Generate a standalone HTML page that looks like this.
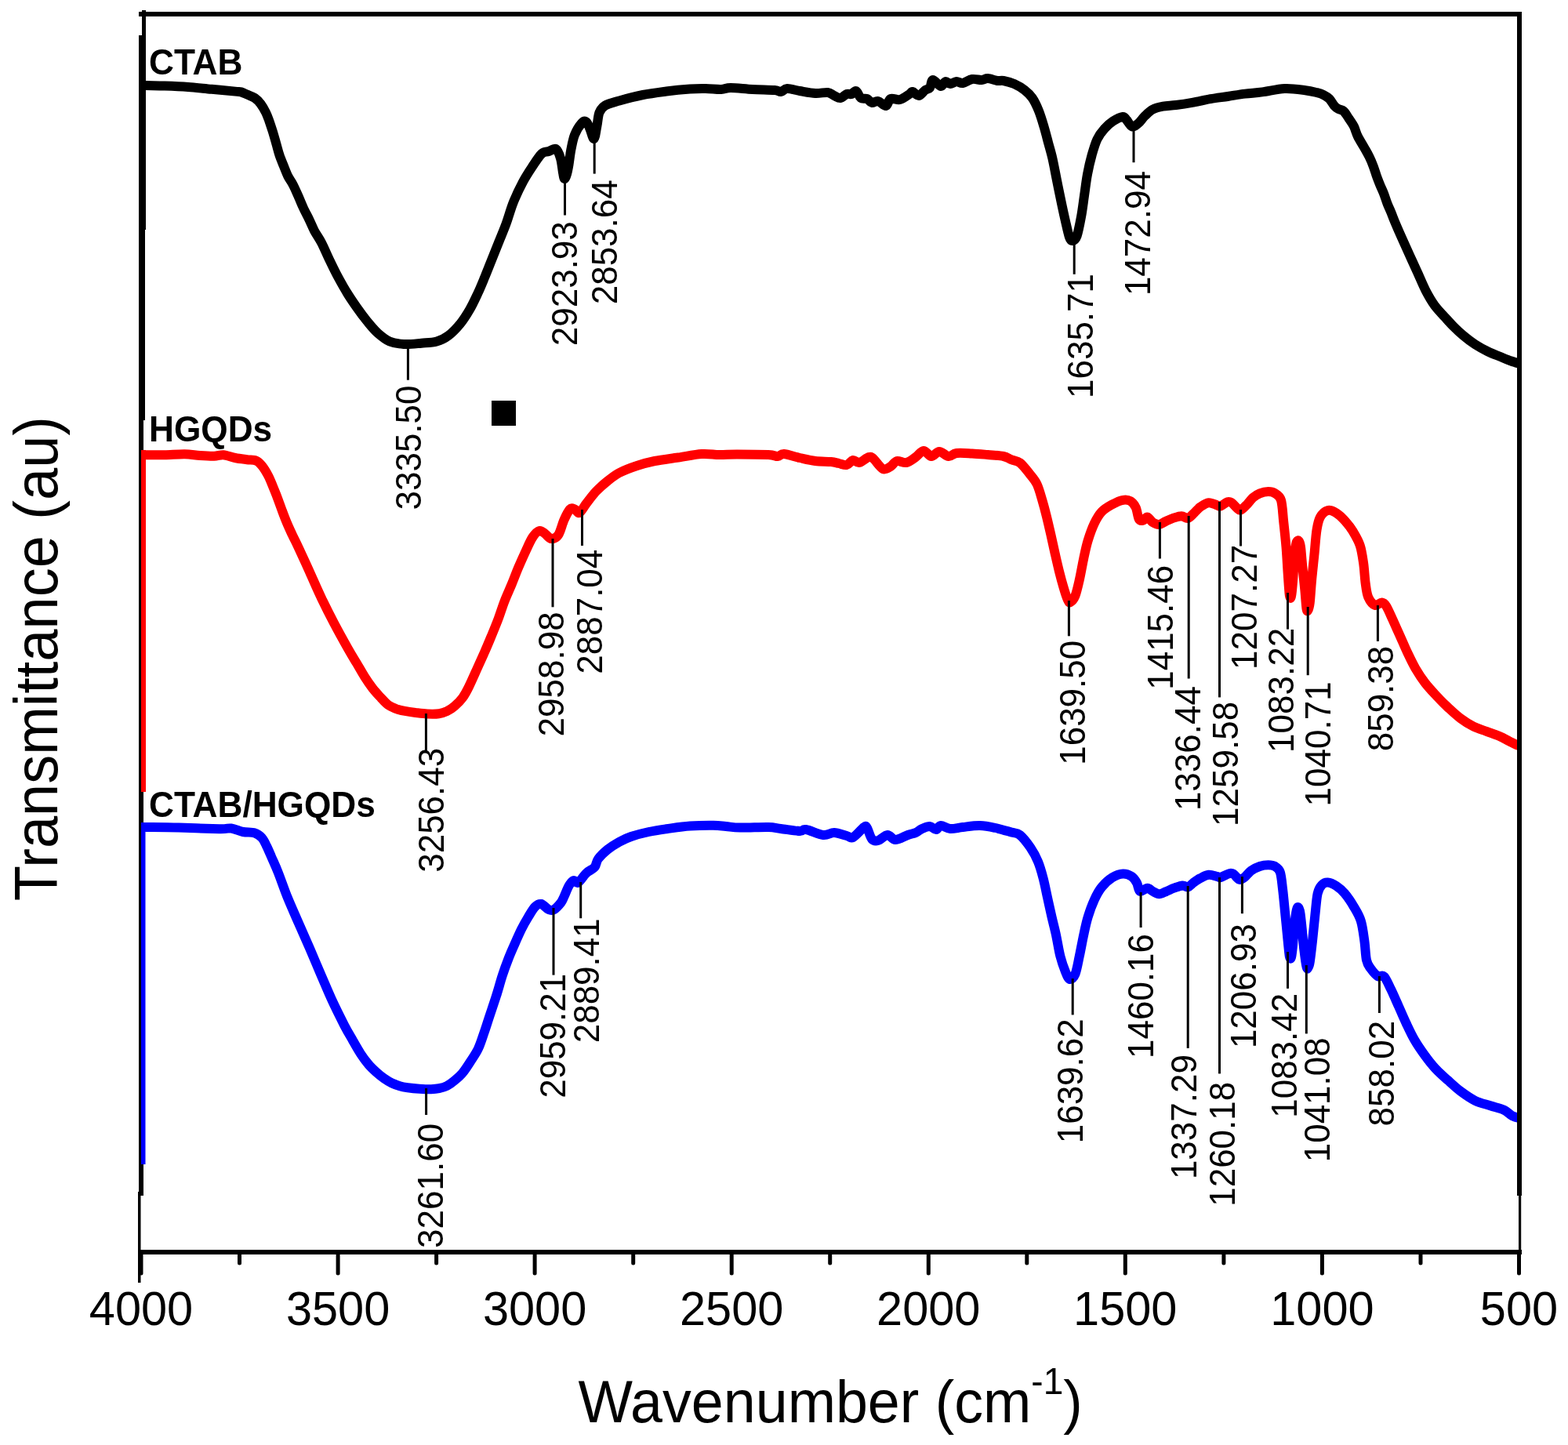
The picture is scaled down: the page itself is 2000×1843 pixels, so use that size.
<!DOCTYPE html>
<html><head><meta charset="utf-8"><title>FTIR spectra</title>
<style>
html,body{margin:0;padding:0;background:#fff;}
svg{display:block;}
text{font-family:"Liberation Sans",Arial,sans-serif;fill:#000;}
.pk{font-size:44px;}
.ld{stroke:#000;stroke-width:3;}
.nm{font-size:44.2px;font-weight:bold;}
</style></head><body>
<svg width="2000" height="1843" viewBox="0 0 2000 1843">
<defs><clipPath id="pc"><rect x="180" y="0" width="1760" height="1600"/></clipPath></defs>
<rect x="0" y="0" width="2000" height="1843" fill="#fff"/>
<rect x="181" y="13" width="5" height="33" fill="#000"/>
<rect x="177" y="45" width="9" height="248" fill="#000"/>
<rect x="177" y="292" width="8" height="244" fill="#000"/>
<rect x="177" y="535" width="6" height="990" fill="#000"/>
<rect x="176" y="1520" width="3.5" height="116" fill="#000"/>
<path d="M186.0,109.0 C190.0,109.1 201.0,109.3 210.0,109.6 C219.0,109.9 230.0,110.3 240.0,111.0 C250.0,111.7 260.0,112.9 270.0,113.8 C280.0,114.7 293.7,116.0 300.0,116.6 C306.3,117.2 305.1,116.7 307.6,117.4 C310.1,118.1 312.3,119.3 315.2,120.6 C318.1,121.9 322.1,123.0 325.0,125.0 C327.9,127.0 330.3,129.5 332.6,132.6 C334.9,135.7 337.2,139.8 339.0,143.4 C340.8,147.0 341.9,150.3 343.4,154.3 C344.8,158.3 346.2,162.6 347.7,167.3 C349.1,172.0 350.7,177.4 352.1,182.5 C353.6,187.6 354.8,192.8 356.4,197.7 C358.0,202.6 360.1,207.3 361.9,211.8 C363.7,216.3 365.3,220.8 367.3,224.8 C369.3,228.8 371.6,231.5 373.8,235.7 C376.0,239.9 378.1,244.9 380.3,249.8 C382.5,254.7 384.5,259.8 386.8,264.9 C389.1,269.9 392.0,275.2 394.4,280.1 C396.8,285.0 398.3,289.3 400.9,294.2 C403.5,299.1 406.7,303.2 410.0,309.5 C413.3,315.8 417.0,324.8 420.5,332.0 C424.0,339.2 427.2,346.0 431.0,353.0 C434.8,360.0 439.0,367.5 443.0,374.0 C447.0,380.5 450.8,386.0 455.0,392.0 C459.2,398.0 464.0,404.5 468.5,410.0 C473.0,415.5 477.2,420.8 482.0,425.0 C486.8,429.2 491.5,433.2 497.0,435.5 C502.5,437.8 508.2,438.6 515.0,439.0 C521.8,439.4 530.5,438.3 537.5,437.7 C544.5,437.1 551.2,437.1 557.0,435.5 C562.8,433.9 567.0,431.8 572.0,428.0 C577.0,424.2 582.5,418.5 587.0,413.0 C591.5,407.5 595.2,401.5 599.0,395.0 C602.8,388.5 606.2,381.0 609.5,374.0 C612.8,367.0 615.5,360.2 618.5,353.0 C621.5,345.8 624.5,338.0 627.5,330.5 C630.5,323.0 633.5,315.5 636.5,308.0 C639.5,300.5 642.4,293.9 645.5,285.5 C648.6,277.1 651.4,266.4 655.0,257.5 C658.6,248.6 663.0,239.5 667.0,232.0 C671.0,224.5 675.0,218.5 679.0,212.5 C683.0,206.5 687.5,199.2 691.0,196.0 C694.5,192.8 697.0,194.0 700.0,193.0 C703.0,192.0 706.5,188.5 709.0,190.0 C711.5,191.5 713.5,197.0 715.0,202.0 C716.5,207.0 717.2,215.7 718.0,220.0 C718.8,224.3 719.2,227.7 720.0,228.0 C720.8,228.3 722.1,225.0 723.0,222.0 C723.9,219.0 724.6,215.3 725.5,210.0 C726.4,204.7 727.2,196.3 728.5,190.0 C729.8,183.7 730.8,177.5 733.0,172.0 C735.2,166.5 739.5,159.8 742.0,157.0 C744.5,154.2 746.2,154.2 748.0,155.5 C749.8,156.8 750.9,160.9 752.5,164.5 C754.1,168.1 756.2,177.8 757.7,177.0 C759.2,176.2 760.4,165.6 761.5,160.0 C762.6,154.4 762.8,147.8 764.5,143.5 C766.2,139.2 767.8,137.0 772.0,134.5 C776.2,132.0 782.0,130.8 790.0,128.5 C798.0,126.2 810.0,123.0 820.0,121.0 C830.0,119.0 840.0,117.8 850.0,116.5 C860.0,115.2 871.7,114.1 880.0,113.5 C888.3,112.9 893.3,112.9 900.0,113.0 C906.7,113.1 914.7,114.2 920.0,114.0 C925.3,113.8 925.3,112.0 932.0,112.0 C938.7,112.0 950.7,113.5 960.0,114.0 C969.3,114.5 982.0,114.5 988.0,115.0 C994.0,115.5 993.3,117.3 996.0,117.0 C998.7,116.7 1000.0,113.2 1004.0,113.0 C1008.0,112.8 1014.0,115.0 1020.0,116.0 C1026.0,117.0 1034.0,118.7 1040.0,119.0 C1046.0,119.3 1052.0,117.5 1056.0,118.0 C1060.0,118.5 1061.3,120.8 1064.0,122.0 C1066.7,123.2 1069.3,125.3 1072.0,125.0 C1074.7,124.7 1077.7,120.8 1080.0,120.0 C1082.3,119.2 1084.0,120.7 1086.0,120.0 C1088.0,119.3 1090.0,115.2 1092.0,116.0 C1094.0,116.8 1095.7,123.3 1098.0,125.0 C1100.3,126.7 1103.7,125.0 1106.0,126.0 C1108.3,127.0 1109.7,130.5 1112.0,131.0 C1114.3,131.5 1117.0,128.3 1120.0,129.0 C1123.0,129.7 1127.3,135.5 1130.0,135.0 C1132.7,134.5 1133.0,127.3 1136.0,126.0 C1139.0,124.7 1144.0,128.0 1148.0,127.0 C1152.0,126.0 1157.3,121.7 1160.0,120.0 C1162.7,118.3 1162.0,116.7 1164.0,117.0 C1166.0,117.3 1169.3,122.3 1172.0,122.0 C1174.7,121.7 1177.7,116.7 1180.0,115.0 C1182.3,113.3 1184.3,114.2 1186.0,112.0 C1187.7,109.8 1187.7,102.3 1190.0,102.0 C1192.3,101.7 1197.3,109.7 1200.0,110.0 C1202.7,110.3 1204.0,104.5 1206.0,104.0 C1208.0,103.5 1209.7,107.0 1212.0,107.0 C1214.3,107.0 1217.3,104.2 1220.0,104.0 C1222.7,103.8 1224.7,106.5 1228.0,106.0 C1231.3,105.5 1236.0,101.7 1240.0,101.0 C1244.0,100.3 1248.7,102.2 1252.0,102.0 C1255.3,101.8 1256.7,99.8 1260.0,100.0 C1263.3,100.2 1268.7,102.5 1272.0,103.0 C1275.3,103.5 1276.4,102.3 1280.0,103.0 C1283.6,103.7 1289.1,105.0 1293.6,107.0 C1298.1,109.0 1303.2,112.0 1307.0,115.0 C1310.8,118.0 1313.6,120.5 1316.6,124.8 C1319.6,129.1 1322.3,134.9 1324.8,141.0 C1327.3,147.1 1329.5,154.6 1331.5,161.4 C1333.5,168.2 1335.2,174.9 1337.0,181.7 C1338.8,188.5 1340.6,194.1 1342.4,202.0 C1344.2,209.9 1346.0,220.0 1347.8,229.0 C1349.6,238.0 1351.5,247.4 1353.3,256.0 C1355.1,264.6 1356.9,273.1 1358.7,280.8 C1360.5,288.6 1362.5,298.1 1364.0,302.5 C1365.5,306.9 1366.4,307.2 1368.0,307.0 C1369.6,306.8 1371.8,306.1 1373.6,301.0 C1375.4,295.9 1377.4,285.3 1379.0,276.7 C1380.6,268.1 1381.7,258.6 1383.0,249.6 C1384.3,240.6 1385.4,231.0 1387.0,222.4 C1388.6,213.8 1390.5,205.4 1392.6,198.0 C1394.7,190.6 1396.7,183.4 1399.4,177.7 C1402.1,172.0 1405.5,167.8 1408.9,164.0 C1412.3,160.2 1415.9,157.1 1419.7,154.6 C1423.5,152.1 1429.1,149.3 1432.0,149.0 C1434.9,148.7 1435.0,150.9 1437.0,153.0 C1439.0,155.1 1441.5,160.7 1444.0,161.4 C1446.5,162.1 1449.3,159.6 1452.0,157.3 C1454.7,155.0 1457.4,150.7 1460.4,147.8 C1463.4,144.9 1466.2,141.7 1470.0,139.7 C1473.8,137.7 1478.5,136.5 1483.5,135.6 C1488.5,134.7 1493.6,134.8 1500.0,134.0 C1506.4,133.2 1514.7,131.9 1522.0,130.6 C1529.3,129.3 1536.7,127.5 1544.0,126.2 C1551.3,124.9 1558.7,124.1 1566.0,123.0 C1573.3,121.9 1580.7,120.5 1588.0,119.6 C1595.3,118.7 1601.6,118.5 1610.0,117.4 C1618.4,116.3 1629.4,113.4 1638.6,113.0 C1647.8,112.6 1658.1,114.3 1665.0,115.2 C1671.9,116.1 1676.2,117.3 1680.0,118.2 C1683.8,119.1 1685.2,119.5 1687.8,120.8 C1690.4,122.1 1693.2,123.6 1695.6,126.0 C1698.0,128.4 1700.1,132.9 1702.1,135.1 C1704.0,137.3 1705.3,137.9 1707.3,139.0 C1709.2,140.1 1711.6,139.7 1713.8,141.7 C1716.0,143.7 1718.1,147.6 1720.3,150.8 C1722.5,154.1 1725.0,157.3 1726.9,161.2 C1728.8,165.1 1729.7,169.6 1731.9,174.0 C1734.1,178.4 1737.5,183.6 1739.9,187.9 C1742.3,192.2 1744.5,195.9 1746.5,199.9 C1748.5,203.9 1750.1,207.8 1751.6,211.8 C1753.1,215.8 1754.2,219.7 1755.6,223.7 C1757.0,227.7 1758.6,231.7 1760.2,235.7 C1761.8,239.7 1763.8,243.6 1765.3,247.6 C1766.8,251.6 1768.0,255.6 1769.5,259.6 C1771.0,263.6 1773.1,267.8 1774.6,271.5 C1776.1,275.2 1776.4,276.4 1778.6,281.7 C1780.8,287.0 1784.8,296.2 1788.0,303.4 C1791.2,310.6 1794.5,317.8 1797.8,325.1 C1801.1,332.4 1804.3,339.4 1807.8,347.0 C1811.3,354.6 1815.0,363.9 1818.7,371.0 C1822.4,378.1 1825.8,384.0 1829.8,389.5 C1833.8,395.0 1838.7,399.8 1842.7,404.2 C1846.7,408.6 1849.8,412.2 1853.8,416.2 C1857.8,420.2 1862.1,424.3 1866.7,428.2 C1871.3,432.1 1876.3,435.9 1881.5,439.3 C1886.7,442.7 1892.7,445.9 1898.1,448.5 C1903.5,451.1 1908.9,453.0 1913.8,455.0 C1918.7,457.0 1923.2,458.9 1927.6,460.5 C1932.0,462.1 1937.9,463.8 1940.0,464.5" fill="none" stroke="#000" stroke-width="12" stroke-linejoin="round" stroke-linecap="round" clip-path="url(#pc)"/>
<path d="M186.0,580.2 C190.0,580.2 201.8,580.4 210.0,580.2 C218.2,580.0 228.0,579.1 235.5,579.2 C243.0,579.3 248.8,580.6 255.0,581.0 C261.2,581.4 268.0,581.8 273.0,581.7 C278.0,581.6 280.5,579.8 285.0,580.2 C289.5,580.6 295.0,583.0 300.0,584.0 C305.0,585.0 310.5,585.6 315.0,586.2 C319.5,586.8 323.8,586.3 327.0,587.7 C330.2,589.1 332.0,591.4 334.5,594.5 C337.0,597.6 339.8,602.4 342.0,606.5 C344.2,610.6 345.7,614.6 347.5,619.0 C349.3,623.4 351.1,627.6 353.0,632.6 C354.9,637.6 357.0,643.6 359.0,649.0 C361.0,654.4 362.9,659.7 365.2,665.1 C367.4,670.5 370.0,676.1 372.5,681.5 C375.0,686.9 376.6,689.6 380.4,697.7 C384.2,705.8 390.4,719.4 395.3,730.2 C400.2,741.1 404.8,751.9 410.0,762.8 C415.2,773.6 420.6,784.4 426.3,795.3 C432.0,806.1 439.4,819.4 444.2,827.9 C449.0,836.4 451.5,840.1 455.0,846.0 C458.5,851.9 461.7,857.8 465.0,863.0 C468.3,868.2 471.7,873.2 475.0,877.5 C478.3,881.8 481.7,885.4 485.0,889.0 C488.3,892.6 491.7,896.5 495.0,899.0 C498.3,901.5 501.7,902.7 505.0,904.0 C508.3,905.3 510.8,905.9 515.0,906.7 C519.2,907.5 525.0,908.4 530.0,909.0 C535.0,909.6 540.0,910.3 545.0,910.5 C550.0,910.7 555.8,910.8 560.0,910.2 C564.2,909.7 566.7,908.8 570.0,907.2 C573.3,905.6 576.7,903.4 580.0,900.5 C583.3,897.6 587.0,894.1 590.0,890.0 C593.0,885.9 595.0,882.1 598.0,876.0 C601.0,869.9 604.9,861.0 608.2,853.6 C611.5,846.2 614.8,839.1 618.0,831.9 C621.2,824.7 624.2,817.4 627.2,810.2 C630.2,803.0 633.2,795.7 635.9,788.5 C638.6,781.3 640.7,774.0 643.5,766.8 C646.3,759.6 649.7,752.3 652.7,745.1 C655.7,737.9 658.3,730.6 661.4,723.4 C664.5,716.2 668.1,708.1 671.1,701.7 C674.1,695.3 676.7,689.1 679.5,685.0 C682.3,680.9 685.3,677.7 688.0,677.0 C690.7,676.3 693.0,679.3 695.5,681.0 C698.0,682.7 700.2,686.8 703.0,687.0 C705.8,687.2 709.2,686.5 712.0,682.5 C714.8,678.5 717.0,668.5 719.5,663.0 C722.0,657.5 724.8,651.8 727.0,649.5 C729.2,647.2 731.0,648.8 733.0,649.5 C735.0,650.2 736.5,655.2 739.0,654.0 C741.5,652.8 744.5,646.5 748.0,642.0 C751.5,637.5 755.5,631.8 760.0,627.0 C764.5,622.2 770.0,617.5 775.0,613.5 C780.0,609.5 783.8,606.2 790.0,603.0 C796.2,599.8 805.0,596.5 812.5,594.0 C820.0,591.5 826.2,589.8 835.0,588.0 C843.8,586.2 855.0,585.0 865.0,583.5 C875.0,582.0 886.2,579.6 895.0,579.0 C903.8,578.4 910.0,579.9 917.5,580.0 C925.0,580.1 929.6,579.4 940.0,579.4 C950.4,579.4 971.3,579.6 980.0,580.0 C988.7,580.4 988.7,582.2 992.0,582.0 C995.3,581.8 995.3,578.7 1000.0,579.0 C1004.7,579.3 1013.3,582.5 1020.0,584.0 C1026.7,585.5 1033.3,587.2 1040.0,588.0 C1046.7,588.8 1055.0,588.5 1060.0,589.0 C1065.0,589.5 1066.7,590.3 1070.0,591.0 C1073.3,591.7 1077.0,593.7 1080.0,593.0 C1083.0,592.3 1085.3,587.5 1088.0,587.0 C1090.7,586.5 1092.7,590.7 1096.0,590.0 C1099.3,589.3 1105.0,583.8 1108.0,583.0 C1111.0,582.2 1111.0,582.5 1114.0,585.0 C1117.0,587.5 1122.3,596.3 1126.0,598.0 C1129.7,599.7 1133.0,596.7 1136.0,595.0 C1139.0,593.3 1140.7,588.8 1144.0,588.0 C1147.3,587.2 1152.0,590.8 1156.0,590.0 C1160.0,589.2 1164.3,585.5 1168.0,583.0 C1171.7,580.5 1174.7,575.2 1178.0,575.0 C1181.3,574.8 1184.7,581.8 1188.0,582.0 C1191.3,582.2 1194.3,576.0 1198.0,576.0 C1201.7,576.0 1206.3,581.7 1210.0,582.0 C1213.7,582.3 1215.0,578.6 1220.0,578.0 C1225.0,577.4 1233.3,578.1 1240.0,578.4 C1246.7,578.7 1253.3,579.4 1260.0,580.0 C1266.7,580.6 1275.0,581.0 1280.0,582.0 C1285.0,583.0 1286.5,584.9 1290.0,586.3 C1293.5,587.7 1297.1,587.3 1300.9,590.3 C1304.7,593.2 1309.4,599.5 1313.0,604.0 C1316.6,608.5 1319.9,611.9 1322.6,617.5 C1325.3,623.1 1327.3,631.0 1329.3,637.8 C1331.3,644.6 1333.0,651.0 1334.8,658.2 C1336.6,665.4 1338.4,673.3 1340.2,681.2 C1342.0,689.1 1343.8,697.7 1345.6,705.6 C1347.4,713.5 1349.2,721.5 1351.0,728.7 C1352.8,735.9 1354.7,742.9 1356.5,749.0 C1358.3,755.1 1360.5,762.1 1362.0,765.3 C1363.5,768.5 1363.7,768.9 1365.3,768.0 C1366.9,767.1 1369.5,764.7 1371.4,760.0 C1373.3,755.3 1375.0,747.5 1376.8,739.6 C1378.6,731.7 1380.4,720.8 1382.2,712.4 C1384.0,704.0 1385.4,696.8 1387.7,689.4 C1390.0,682.0 1392.9,673.8 1395.8,667.7 C1398.7,661.6 1401.4,656.8 1405.3,652.7 C1409.2,648.6 1414.4,645.8 1418.9,643.3 C1423.4,640.8 1428.6,638.5 1432.4,637.8 C1436.2,637.1 1439.3,637.6 1442.0,639.2 C1444.7,640.8 1446.9,643.5 1448.7,647.3 C1450.5,651.1 1451.2,659.5 1452.8,662.2 C1454.4,664.9 1456.4,664.1 1458.2,663.6 C1460.0,663.1 1461.6,659.0 1463.6,659.5 C1465.6,660.0 1467.9,664.7 1470.4,666.3 C1472.9,667.9 1475.8,669.2 1478.5,669.0 C1481.2,668.8 1483.8,666.4 1486.7,665.0 C1489.7,663.6 1492.8,662.0 1496.2,660.9 C1499.6,659.8 1503.8,658.2 1507.0,658.2 C1510.2,658.2 1512.5,661.6 1515.2,660.9 C1517.9,660.2 1520.7,656.5 1523.3,654.1 C1525.9,651.7 1527.8,648.9 1530.9,646.7 C1534.0,644.6 1538.1,641.6 1541.7,641.2 C1545.3,640.8 1550.1,643.8 1552.6,644.5 C1555.1,645.2 1554.7,646.3 1556.9,645.6 C1559.1,644.9 1563.2,640.9 1565.6,640.2 C1567.9,639.5 1569.0,640.0 1571.0,641.2 C1573.0,642.5 1575.6,646.2 1577.5,647.7 C1579.4,649.2 1580.2,651.2 1582.4,650.5 C1584.6,649.8 1587.9,646.0 1590.5,643.4 C1593.1,640.8 1595.4,637.1 1598.1,634.7 C1600.8,632.4 1603.5,630.6 1606.8,629.3 C1610.1,628.0 1614.5,627.1 1617.7,627.1 C1621.0,627.1 1623.6,627.5 1626.3,629.3 C1629.0,631.1 1632.2,632.0 1634.0,638.0 C1635.8,644.0 1636.1,655.1 1637.2,665.1 C1638.3,675.1 1639.6,686.9 1640.5,697.7 C1641.4,708.6 1641.9,720.0 1642.6,730.2 C1643.3,740.4 1644.1,754.0 1644.8,759.0 C1645.5,764.0 1646.3,763.5 1647.0,760.5 C1647.7,757.5 1648.4,749.7 1649.1,741.0 C1649.8,732.3 1650.6,716.6 1651.3,708.5 C1652.0,700.4 1652.6,695.3 1653.5,692.2 C1654.4,689.1 1655.8,689.1 1656.7,690.0 C1657.6,690.9 1658.3,692.8 1659.0,697.7 C1659.7,702.6 1660.1,710.4 1661.0,719.4 C1661.9,728.4 1663.4,742.5 1664.3,752.0 C1665.2,761.5 1665.8,772.2 1666.5,776.5 C1667.2,780.8 1667.8,779.4 1668.5,778.0 C1669.2,776.6 1670.0,774.4 1670.8,768.2 C1671.5,762.0 1672.1,751.0 1673.0,741.0 C1673.9,731.0 1675.2,719.3 1676.3,708.5 C1677.4,697.7 1678.2,684.1 1679.5,676.0 C1680.8,667.9 1681.6,663.9 1683.9,659.7 C1686.2,655.5 1690.2,651.9 1693.6,651.0 C1697.0,650.1 1700.9,652.1 1704.5,654.3 C1708.1,656.5 1711.7,660.0 1715.3,664.0 C1718.9,668.0 1722.8,672.9 1726.0,678.2 C1729.2,683.5 1732.5,688.9 1734.7,695.6 C1736.9,702.3 1737.9,710.1 1739.1,718.2 C1740.3,726.3 1740.7,737.0 1741.7,744.2 C1742.7,751.4 1743.2,757.0 1745.2,761.6 C1747.2,766.2 1750.9,770.9 1753.8,772.0 C1756.7,773.1 1760.1,768.3 1762.5,768.5 C1764.9,768.7 1765.9,769.4 1768.2,773.1 C1770.5,776.8 1773.6,784.2 1776.5,790.6 C1779.4,797.0 1782.7,804.3 1785.8,811.2 C1788.9,818.1 1791.7,825.0 1795.0,831.9 C1798.3,838.8 1801.6,846.0 1805.4,852.5 C1809.2,859.0 1813.2,865.2 1817.7,871.0 C1822.2,876.8 1827.4,882.3 1832.2,887.5 C1837.0,892.7 1841.4,897.2 1846.6,902.0 C1851.8,906.8 1857.6,912.3 1863.1,916.4 C1868.6,920.5 1874.1,924.0 1879.6,926.7 C1885.1,929.5 1890.6,930.8 1896.1,932.9 C1901.6,935.0 1907.8,937.0 1912.6,939.1 C1917.4,941.2 1921.2,943.4 1925.0,945.3 C1928.8,947.2 1932.8,949.4 1935.3,950.4 C1937.8,951.4 1939.2,950.9 1940.0,951.0" fill="none" stroke="#f00" stroke-width="12" stroke-linejoin="round" stroke-linecap="round" clip-path="url(#pc)"/>
<path d="M186.0,1055.0 C193.0,1055.1 212.3,1055.2 228.0,1055.6 C243.7,1056.0 268.8,1057.0 280.0,1057.2 C291.2,1057.4 290.0,1055.9 295.0,1056.5 C300.0,1057.1 305.0,1060.0 310.0,1061.0 C315.0,1062.0 321.0,1061.2 325.0,1062.5 C329.0,1063.8 331.5,1065.8 334.0,1068.5 C336.5,1071.2 338.0,1075.0 340.0,1079.0 C342.0,1083.0 343.6,1086.9 346.0,1092.5 C348.4,1098.1 351.2,1103.8 354.7,1112.6 C358.2,1121.4 362.5,1134.2 366.9,1145.1 C371.3,1155.9 376.3,1166.8 381.0,1177.7 C385.7,1188.6 390.6,1199.4 395.3,1210.2 C400.0,1221.0 404.5,1232.0 409.2,1242.8 C413.9,1253.6 418.3,1264.4 423.3,1275.3 C428.3,1286.2 434.9,1299.3 439.3,1307.9 C443.8,1316.5 446.6,1321.0 450.0,1327.0 C453.4,1333.0 456.7,1338.9 460.0,1344.0 C463.3,1349.1 466.7,1353.6 470.0,1357.5 C473.3,1361.4 476.7,1364.5 480.0,1367.5 C483.3,1370.5 486.7,1373.2 490.0,1375.5 C493.3,1377.8 496.7,1379.9 500.0,1381.5 C503.3,1383.1 506.7,1384.2 510.0,1385.2 C513.3,1386.2 515.8,1386.6 520.0,1387.2 C524.2,1387.8 530.0,1388.4 535.0,1388.7 C540.0,1389.0 545.8,1389.3 550.0,1389.2 C554.2,1389.1 556.7,1388.9 560.0,1388.2 C563.3,1387.5 566.7,1386.7 570.0,1385.0 C573.3,1383.3 576.7,1380.8 580.0,1378.0 C583.3,1375.2 586.7,1372.5 590.0,1368.5 C593.3,1364.5 596.7,1359.2 600.0,1354.0 C603.3,1348.8 607.1,1343.7 610.0,1337.5 C612.9,1331.3 615.1,1323.9 617.5,1317.0 C619.9,1310.1 621.7,1304.1 624.3,1296.3 C626.9,1288.5 630.2,1278.9 633.0,1270.2 C635.8,1261.5 638.2,1252.2 640.8,1244.2 C643.4,1236.2 646.0,1229.2 648.6,1222.5 C651.2,1215.8 653.6,1210.4 656.4,1204.2 C659.1,1198.0 662.2,1190.9 665.1,1185.1 C668.0,1179.3 670.9,1174.3 673.8,1169.5 C676.7,1164.7 679.8,1159.2 682.5,1156.5 C685.2,1153.8 687.4,1152.4 690.3,1153.0 C693.2,1153.6 697.0,1158.8 699.8,1160.0 C702.5,1161.2 704.2,1161.5 706.8,1160.0 C709.4,1158.5 713.4,1154.0 715.5,1151.3 C717.6,1148.5 717.8,1147.0 719.5,1143.5 C721.2,1140.0 723.5,1133.4 725.5,1130.0 C727.5,1126.6 729.5,1123.8 731.5,1123.0 C733.5,1122.2 734.8,1127.1 737.5,1125.5 C740.2,1123.9 744.5,1116.8 748.0,1113.5 C751.5,1110.2 756.0,1109.0 758.5,1106.0 C761.0,1103.0 760.2,1099.2 763.0,1095.5 C765.8,1091.8 770.5,1087.1 775.0,1083.5 C779.5,1079.9 785.0,1076.5 790.0,1073.7 C795.0,1071.0 798.8,1069.1 805.0,1067.0 C811.2,1064.9 820.0,1062.6 827.5,1061.0 C835.0,1059.4 841.2,1058.5 850.0,1057.2 C858.8,1056.0 870.0,1054.2 880.0,1053.5 C890.0,1052.8 902.3,1052.6 910.0,1052.7 C917.7,1052.8 920.3,1053.5 926.0,1054.0 C931.7,1054.5 935.0,1055.4 944.0,1055.6 C953.0,1055.8 971.3,1054.8 980.0,1055.0 C988.7,1055.2 989.3,1056.2 996.0,1057.0 C1002.7,1057.8 1014.7,1059.8 1020.0,1060.0 C1025.3,1060.2 1023.0,1057.2 1028.0,1058.0 C1033.0,1058.8 1044.0,1064.3 1050.0,1065.0 C1056.0,1065.7 1059.0,1061.8 1064.0,1062.0 C1069.0,1062.2 1076.0,1065.0 1080.0,1066.0 C1084.0,1067.0 1084.3,1069.8 1088.0,1068.0 C1091.7,1066.2 1099.0,1057.0 1102.0,1055.0 C1105.0,1053.0 1104.3,1053.5 1106.0,1056.0 C1107.7,1058.5 1109.7,1067.3 1112.0,1070.0 C1114.3,1072.7 1116.7,1072.8 1120.0,1072.0 C1123.3,1071.2 1128.3,1065.2 1132.0,1065.0 C1135.7,1064.8 1137.7,1071.0 1142.0,1071.0 C1146.3,1071.0 1153.7,1066.5 1158.0,1065.0 C1162.3,1063.5 1165.0,1063.3 1168.0,1062.0 C1171.0,1060.7 1173.0,1058.3 1176.0,1057.0 C1179.0,1055.7 1183.0,1053.8 1186.0,1054.0 C1189.0,1054.2 1191.7,1058.2 1194.0,1058.0 C1196.3,1057.8 1197.0,1053.2 1200.0,1053.0 C1203.0,1052.8 1207.3,1056.7 1212.0,1057.0 C1216.7,1057.3 1221.7,1055.7 1228.0,1055.0 C1234.3,1054.3 1243.0,1052.8 1250.0,1053.0 C1257.0,1053.2 1263.3,1054.6 1270.0,1056.0 C1276.7,1057.4 1284.8,1060.0 1290.0,1061.5 C1295.2,1063.0 1296.8,1061.7 1300.9,1065.0 C1305.0,1068.3 1310.6,1075.6 1314.4,1081.2 C1318.2,1086.8 1321.2,1092.2 1323.9,1098.8 C1326.6,1105.3 1328.7,1112.8 1330.7,1120.5 C1332.7,1128.2 1334.3,1136.8 1336.1,1145.0 C1337.9,1153.2 1339.7,1161.5 1341.5,1169.4 C1343.3,1177.3 1345.2,1184.0 1347.0,1192.4 C1348.8,1200.8 1350.4,1211.7 1352.4,1219.6 C1354.4,1227.5 1357.2,1235.1 1359.2,1240.0 C1361.2,1244.9 1362.6,1248.6 1364.6,1249.0 C1366.6,1249.4 1369.4,1247.5 1371.4,1242.6 C1373.4,1237.7 1375.0,1228.0 1376.8,1219.6 C1378.6,1211.2 1380.4,1200.8 1382.2,1192.4 C1384.0,1184.0 1385.4,1176.9 1387.7,1169.4 C1390.0,1162.0 1392.9,1154.0 1395.8,1147.7 C1398.7,1141.4 1401.4,1136.2 1405.3,1131.4 C1409.2,1126.7 1414.4,1122.0 1418.9,1119.2 C1423.4,1116.4 1428.3,1114.6 1432.4,1114.4 C1436.5,1114.2 1440.4,1115.9 1443.3,1117.8 C1446.2,1119.7 1448.2,1122.8 1450.0,1126.0 C1451.8,1129.2 1451.8,1135.7 1454.1,1136.8 C1456.4,1137.9 1460.9,1132.7 1463.6,1132.7 C1466.3,1132.7 1467.9,1135.5 1470.4,1136.8 C1472.9,1138.0 1475.6,1140.2 1478.5,1140.2 C1481.4,1140.2 1484.8,1138.0 1488.0,1136.8 C1491.2,1135.5 1494.1,1133.9 1497.5,1132.7 C1500.9,1131.5 1505.5,1129.6 1508.4,1129.4 C1511.4,1129.2 1512.9,1132.0 1515.2,1131.4 C1517.5,1130.8 1519.4,1127.9 1522.0,1126.0 C1524.6,1124.1 1527.6,1121.9 1530.9,1120.2 C1534.2,1118.5 1538.1,1116.2 1541.7,1115.8 C1545.3,1115.4 1550.1,1117.5 1552.6,1118.0 C1555.1,1118.5 1554.4,1119.7 1556.9,1119.1 C1559.4,1118.5 1565.0,1114.9 1567.7,1114.2 C1570.4,1113.5 1571.0,1113.4 1573.2,1114.7 C1575.4,1116.0 1578.5,1121.1 1580.8,1121.8 C1583.1,1122.5 1584.8,1120.9 1587.3,1119.0 C1589.8,1117.1 1592.8,1112.7 1596.0,1110.4 C1599.2,1108.1 1603.2,1106.2 1606.8,1105.0 C1610.4,1103.8 1614.5,1103.3 1617.7,1103.3 C1621.0,1103.3 1623.8,1103.5 1626.3,1105.0 C1628.8,1106.5 1631.3,1107.7 1632.9,1112.6 C1634.5,1117.5 1635.0,1125.3 1636.1,1134.3 C1637.2,1143.3 1638.3,1155.9 1639.4,1166.8 C1640.5,1177.7 1641.7,1190.6 1642.6,1199.4 C1643.5,1208.2 1644.1,1215.9 1644.8,1219.5 C1645.5,1223.1 1646.3,1223.5 1647.0,1221.0 C1647.7,1218.5 1648.4,1212.0 1649.1,1204.8 C1649.8,1197.6 1650.4,1185.5 1651.3,1177.7 C1652.2,1169.9 1653.5,1160.8 1654.6,1158.1 C1655.7,1155.4 1656.9,1158.1 1657.8,1161.4 C1658.7,1164.7 1659.1,1169.6 1660.0,1177.7 C1660.9,1185.8 1662.1,1201.0 1663.2,1210.2 C1664.3,1219.4 1665.6,1229.0 1666.5,1233.0 C1667.4,1237.0 1667.8,1235.1 1668.5,1234.0 C1669.2,1232.9 1669.9,1232.3 1670.8,1226.5 C1671.7,1220.7 1673.0,1209.4 1674.1,1199.4 C1675.2,1189.5 1676.3,1176.8 1677.4,1166.8 C1678.5,1156.8 1679.2,1146.0 1680.6,1139.7 C1682.0,1133.4 1683.8,1131.2 1686.0,1128.8 C1688.2,1126.4 1690.5,1125.4 1693.6,1125.6 C1696.7,1125.8 1700.9,1127.7 1704.5,1130.0 C1708.1,1132.3 1711.6,1135.3 1715.3,1139.7 C1719.0,1144.1 1723.5,1150.8 1726.9,1156.6 C1730.3,1162.4 1733.6,1167.3 1735.8,1174.5 C1738.0,1181.7 1739.1,1191.2 1740.3,1199.6 C1741.5,1207.9 1741.7,1218.6 1743.0,1224.6 C1744.3,1230.6 1746.0,1232.0 1748.4,1235.4 C1750.8,1238.8 1754.5,1243.3 1757.3,1245.0 C1760.1,1246.7 1762.6,1242.6 1765.4,1245.4 C1768.2,1248.2 1771.0,1255.4 1774.1,1261.7 C1777.2,1268.0 1780.7,1276.2 1783.9,1283.4 C1787.2,1290.6 1790.2,1297.9 1793.6,1305.1 C1797.0,1312.3 1800.5,1319.9 1804.5,1326.8 C1808.5,1333.7 1813.0,1340.1 1817.5,1346.3 C1822.0,1352.5 1826.7,1358.5 1831.6,1363.7 C1836.5,1369.0 1841.5,1373.1 1846.8,1377.8 C1852.0,1382.5 1857.3,1387.6 1863.1,1391.9 C1868.9,1396.2 1875.2,1400.7 1881.5,1403.8 C1887.8,1406.9 1894.8,1408.3 1901.0,1410.3 C1907.2,1412.3 1913.7,1413.6 1918.4,1415.8 C1923.1,1418.0 1925.7,1421.6 1929.3,1423.4 C1932.9,1425.2 1938.2,1426.0 1940.0,1426.5" fill="none" stroke="#00f" stroke-width="12" stroke-linejoin="round" stroke-linecap="round" clip-path="url(#pc)"/>
<rect x="180" y="574" width="6" height="436" fill="#f00"/>
<rect x="180" y="1049" width="5.5" height="436" fill="#00f"/>
<rect x="177" y="15" width="1764" height="6" fill="#000"/>
<rect x="1935" y="15" width="6" height="1510" fill="#000"/>
<rect x="1937" y="1520" width="3.2" height="80" fill="#000"/>
<rect x="176" y="1594" width="1765" height="6" fill="#000"/>
<line x1="180.0" y1="1598" x2="180.0" y2="1624" stroke="#000" stroke-width="5" stroke-linecap="round"/>
<text x="180.0" y="1690" text-anchor="middle" font-size="59.5" transform="translate(0,1690) scale(1,1.04) translate(0,-1690)">4000</text>
<line x1="431.1" y1="1598" x2="431.1" y2="1624" stroke="#000" stroke-width="5" stroke-linecap="round"/>
<text x="431.1" y="1690" text-anchor="middle" font-size="59.5" transform="translate(0,1690) scale(1,1.04) translate(0,-1690)">3500</text>
<line x1="682.1" y1="1598" x2="682.1" y2="1624" stroke="#000" stroke-width="5" stroke-linecap="round"/>
<text x="682.1" y="1690" text-anchor="middle" font-size="59.5" transform="translate(0,1690) scale(1,1.04) translate(0,-1690)">3000</text>
<line x1="933.2" y1="1598" x2="933.2" y2="1624" stroke="#000" stroke-width="5" stroke-linecap="round"/>
<text x="933.2" y="1690" text-anchor="middle" font-size="59.5" transform="translate(0,1690) scale(1,1.04) translate(0,-1690)">2500</text>
<line x1="1184.3" y1="1598" x2="1184.3" y2="1624" stroke="#000" stroke-width="5" stroke-linecap="round"/>
<text x="1184.3" y="1690" text-anchor="middle" font-size="59.5" transform="translate(0,1690) scale(1,1.04) translate(0,-1690)">2000</text>
<line x1="1435.3" y1="1598" x2="1435.3" y2="1624" stroke="#000" stroke-width="5" stroke-linecap="round"/>
<text x="1435.3" y="1690" text-anchor="middle" font-size="59.5" transform="translate(0,1690) scale(1,1.04) translate(0,-1690)">1500</text>
<line x1="1686.4" y1="1598" x2="1686.4" y2="1624" stroke="#000" stroke-width="5" stroke-linecap="round"/>
<text x="1686.4" y="1690" text-anchor="middle" font-size="59.5" transform="translate(0,1690) scale(1,1.04) translate(0,-1690)">1000</text>
<line x1="1937.5" y1="1598" x2="1937.5" y2="1624" stroke="#000" stroke-width="5" stroke-linecap="round"/>
<text x="1937.5" y="1690" text-anchor="middle" font-size="59.5" transform="translate(0,1690) scale(1,1.04) translate(0,-1690)">500</text>
<line x1="305.5" y1="1598" x2="305.5" y2="1611" stroke="#000" stroke-width="5" stroke-linecap="round"/>
<line x1="556.6" y1="1598" x2="556.6" y2="1611" stroke="#000" stroke-width="5" stroke-linecap="round"/>
<line x1="807.7" y1="1598" x2="807.7" y2="1611" stroke="#000" stroke-width="5" stroke-linecap="round"/>
<line x1="1058.7" y1="1598" x2="1058.7" y2="1611" stroke="#000" stroke-width="5" stroke-linecap="round"/>
<line x1="1309.8" y1="1598" x2="1309.8" y2="1611" stroke="#000" stroke-width="5" stroke-linecap="round"/>
<line x1="1560.9" y1="1598" x2="1560.9" y2="1611" stroke="#000" stroke-width="5" stroke-linecap="round"/>
<line x1="1812.0" y1="1598" x2="1812.0" y2="1611" stroke="#000" stroke-width="5" stroke-linecap="round"/>
<line x1="520.4" y1="440" x2="520.4" y2="484.7" class="ld"/>
<text transform="translate(537.3,650.5) rotate(-90) scale(1,1.04)" class="pk">3335.50</text>
<line x1="720.5" y1="229" x2="720.5" y2="274.5" class="ld"/>
<text transform="translate(736.4,441.2) rotate(-90) scale(1,1.04)" class="pk">2923.93</text>
<line x1="758.2" y1="178" x2="758.2" y2="221.6" class="ld"/>
<text transform="translate(787.2,388.3) rotate(-90) scale(1,1.04)" class="pk">2853.64</text>
<line x1="1370.2" y1="307" x2="1370.2" y2="349.8" class="ld"/>
<text transform="translate(1394.2,508.0) rotate(-90) scale(1,1.04)" class="pk">1635.71</text>
<line x1="1446" y1="162" x2="1446" y2="207.2" class="ld"/>
<text transform="translate(1467.1,377.1) rotate(-90) scale(1,1.04)" class="pk">1472.94</text>
<line x1="543.4" y1="910" x2="543.4" y2="957" class="ld"/>
<text transform="translate(566.2,1112.8) rotate(-90) scale(1,1.04)" class="pk">3256.43</text>
<line x1="705" y1="687" x2="705" y2="774.3" class="ld"/>
<text transform="translate(718.8,939.4) rotate(-90) scale(1,1.04)" class="pk">2958.98</text>
<line x1="742.5" y1="650" x2="742.5" y2="696" class="ld"/>
<text transform="translate(768.3,859.7) rotate(-90) scale(1,1.04)" class="pk">2887.04</text>
<line x1="1363.4" y1="766" x2="1363.4" y2="811.3" class="ld"/>
<text transform="translate(1384.2,975.8) rotate(-90) scale(1,1.04)" class="pk">1639.50</text>
<line x1="1479.4" y1="666" x2="1479.4" y2="712.5" class="ld"/>
<text transform="translate(1496.2,879.8) rotate(-90) scale(1,1.04)" class="pk">1415.46</text>
<line x1="1516.2" y1="658" x2="1516.2" y2="865.5" class="ld"/>
<text transform="translate(1531.2,1034.1) rotate(-90) scale(1,1.04)" class="pk">1336.44</text>
<line x1="1555.5" y1="640" x2="1555.5" y2="889.4" class="ld"/>
<text transform="translate(1579.1,1053.9) rotate(-90) scale(1,1.04)" class="pk">1259.58</text>
<line x1="1582.5" y1="650" x2="1582.5" y2="696.5" class="ld"/>
<text transform="translate(1602.5,853.9) rotate(-90) scale(1,1.04)" class="pk">1207.27</text>
<line x1="1642.5" y1="756" x2="1642.5" y2="802.6" class="ld"/>
<text transform="translate(1650.3,959.9) rotate(-90) scale(1,1.04)" class="pk">1083.22</text>
<line x1="1668.2" y1="774" x2="1668.2" y2="861.2" class="ld"/>
<text transform="translate(1696.6,1028.4) rotate(-90) scale(1,1.04)" class="pk">1040.71</text>
<line x1="1757.4" y1="772" x2="1757.4" y2="817.9" class="ld"/>
<text transform="translate(1776.9,958.3) rotate(-90) scale(1,1.04)" class="pk">859.38</text>
<line x1="543.6" y1="1388" x2="543.6" y2="1422" class="ld"/>
<text transform="translate(565.4,1591.9) rotate(-90) scale(1,1.04)" class="pk">3261.60</text>
<line x1="706" y1="1158" x2="706" y2="1243.6" class="ld"/>
<text transform="translate(721.2,1400.8) rotate(-90) scale(1,1.04)" class="pk">2959.21</text>
<line x1="740.7" y1="1125" x2="740.7" y2="1171.2" class="ld"/>
<text transform="translate(764.3,1330.3) rotate(-90) scale(1,1.04)" class="pk">2889.41</text>
<line x1="1368.2" y1="1248" x2="1368.2" y2="1294.4" class="ld"/>
<text transform="translate(1381.3,1458.3) rotate(-90) scale(1,1.04)" class="pk">1639.62</text>
<line x1="1455.1" y1="1138" x2="1455.1" y2="1183" class="ld"/>
<text transform="translate(1470.6,1350.0) rotate(-90) scale(1,1.04)" class="pk">1460.16</text>
<line x1="1515.2" y1="1130" x2="1515.2" y2="1336.9" class="ld"/>
<text transform="translate(1526.3,1504.1) rotate(-90) scale(1,1.04)" class="pk">1337.29</text>
<line x1="1555.5" y1="1119" x2="1555.5" y2="1369.4" class="ld"/>
<text transform="translate(1575.3,1538.8) rotate(-90) scale(1,1.04)" class="pk">1260.18</text>
<line x1="1584.4" y1="1118" x2="1584.4" y2="1165.2" class="ld"/>
<text transform="translate(1602.3,1337.1) rotate(-90) scale(1,1.04)" class="pk">1206.93</text>
<line x1="1642.5" y1="1214" x2="1642.5" y2="1260.8" class="ld"/>
<text transform="translate(1653.5,1425.8) rotate(-90) scale(1,1.04)" class="pk">1083.42</text>
<line x1="1666.3" y1="1231" x2="1666.3" y2="1318.4" class="ld"/>
<text transform="translate(1696.4,1482.3) rotate(-90) scale(1,1.04)" class="pk">1041.08</text>
<line x1="1759.4" y1="1245" x2="1759.4" y2="1292" class="ld"/>
<text transform="translate(1778.1,1436.4) rotate(-90) scale(1,1.04)" class="pk">858.02</text>
<text x="190" y="95" class="nm" transform="translate(0,95) scale(1,1.04) translate(0,-95)">CTAB</text>
<text x="190" y="562.8" class="nm" transform="translate(0,562.8) scale(1,1.04) translate(0,-562.8)">HGQDs</text>
<text x="190" y="1041.9" class="nm" transform="translate(0,1041.9) scale(1,1.04) translate(0,-1041.9)">CTAB/HGQDs</text>
<rect x="627" y="511" width="31" height="32" fill="#000"/>
<text x="737.4" y="1814" font-size="73.6" transform="translate(0,1814) scale(1,1.04) translate(0,-1814)">Wavenumber (cm<tspan font-size="46" dy="-35">-1</tspan><tspan dy="35" font-size="73.6">)</tspan></text>
<text transform="translate(73,1149.2) rotate(-90) scale(1,1.04)" font-size="74">Transmittance (au)</text>
</svg></body></html>
